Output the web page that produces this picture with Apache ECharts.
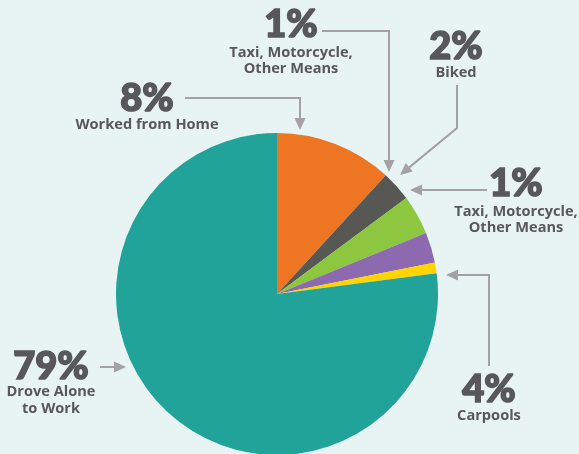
<!DOCTYPE html>
<html><head><meta charset="utf-8">
<script src="https://cdn.jsdelivr.net/npm/echarts@6/dist/echarts.min.js"></script>
<style>html,body{margin:0;padding:0;background:#E8F4F4;}#c{width:579px;height:454px;}</style>
</head><body><div id="c"></div>
<script>
// Slice shares as drawn in the picture (degrees of arc, clockwise from 12 o'clock)
const categories = ['Worked from Home', 'Taxi, Motorcycle, Other Means', 'Biked', 'Taxi, Motorcycle, Other Means (2)', 'Carpools', 'Drove Alone to Work'];
const sliceValues = [42.5, 10.9, 14.3, 11.0, 3.9, 277.4];
const sliceColors = ['#EE7623', '#575853', '#8DC63F', '#8D69AF', '#FFD400', '#22A39A'];
// Annotation texts
const pctLabels = ['8%', '1%', '2%', '1%', '4%', '79%'];
const captionLines = [['Worked from Home'], ['Taxi, Motorcycle,', 'Other Means'], ['Biked'], ['Taxi, Motorcycle,', 'Other Means'], ['Carpools'], ['Drove Alone', 'to Work']];

const textColor = '#58585A';
const arrowColor = '#A3A1A1';
const bigFont = '900 38px Lato, "Open Sans", sans-serif';
const smallFont = 'bold 14.6px "Open Sans", sans-serif';

// layout: [x center, y of big %, y of first caption line]
const layout = [[147, 98.5, 124.5], [291, 24.5, 52.5], [456, 47, 72.5], [516, 183.5, 211.5], [489, 390, 416], [51, 366.5, 392]];
const arrows = [
  [[185, 98], [300, 98], [300, 130]],
  [[322, 31], [389, 31], [389, 172]],
  [[457, 85], [457, 128], [400, 175]],
  [[487, 190], [410, 190]],
  [[489, 366], [489, 275], [446, 275]],
  [[100, 367], [126, 367]]
];

const graphics = [];
function arrow(pts) {
  const n = pts.length;
  const tip = pts[n - 1], prev = pts[n - 2];
  const dx = tip[0] - prev[0], dy = tip[1] - prev[1];
  const L = Math.hypot(dx, dy);
  const ux = dx / L, uy = dy / L;
  const hl = 12, hw = 5.5;
  const base = [tip[0] - ux * hl, tip[1] - uy * hl];
  const line = pts.slice(0, n - 1).concat([base]);
  graphics.push({ type: 'polyline', shape: { points: line }, style: { stroke: arrowColor, lineWidth: 2, fill: null }, z: 10 });
  graphics.push({ type: 'polygon', shape: { points: [tip, [base[0] - uy * hw, base[1] + ux * hw], [base[0] + uy * hw, base[1] - ux * hw]] }, style: { fill: arrowColor }, z: 10 });
}
arrows.forEach(arrow);
layout.forEach((p, i) => {
  graphics.push({ type: 'text', x: p[0], y: p[1], style: { text: pctLabels[i], font: bigFont, fill: textColor, stroke: textColor, lineWidth: 1.6, align: 'center', verticalAlign: 'middle' }, z: 10 });
  captionLines[i].forEach((t, j) => {
    graphics.push({ type: 'text', x: p[0], y: p[2] + j * 16.5, style: { text: t, font: smallFont, fill: textColor, align: 'center', verticalAlign: 'middle' }, z: 10 });
  });
});

const chart = echarts.init(document.getElementById('c'));
chart.setOption({
  backgroundColor: '#E8F4F4',
  animation: false,
  series: [{
    type: 'pie',
    center: [277, 294],
    radius: 161,
    startAngle: 90,
    clockwise: true,
    label: { show: false },
    labelLine: { show: false },
    emphasis: { disabled: true },
    itemStyle: { borderWidth: 0 },
    data: categories.map((c, i) => ({ name: c, value: sliceValues[i], itemStyle: { color: sliceColors[i] } }))
  }],
  graphic: graphics
});
</script></body></html>
